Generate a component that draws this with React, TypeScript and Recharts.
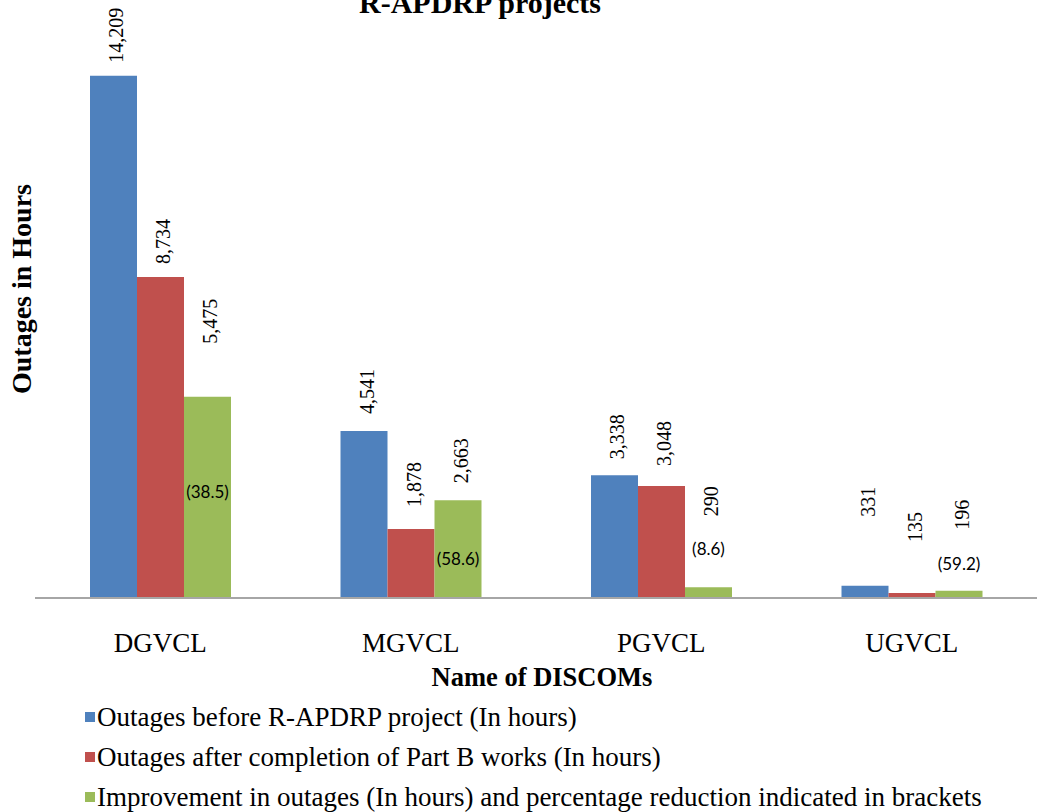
import React from "react";
import { BarChart, Bar, XAxis, YAxis, LabelList } from "recharts";

const categories = ["DGVCL", "MGVCL", "PGVCL", "UGVCL"];
const before = [14209, 4541, 3338, 331];
const after = [8734, 1878, 3048, 135];
const improvement = [5475, 2663, 290, 196];
const reduction = [38.5, 58.6, 8.6, 59.2];

// how far each rotated value label sits above its bar (px), as placed in the original
const beforeLift = [13, 17, 16, 69];
const afterLift = [13, 22, 20, 51];
const improvementLift = [53, 17, 71, 61];
// vertical offset of the bracketed percentage from the green bar top (px, + is down)
const reductionOffset = [95, 58, -39, -27];

const series = [
  { key: "before", name: "Outages before R-APDRP project (In hours)", color: "#4F81BD" },
  { key: "after", name: "Outages after completion of Part B works (In hours)", color: "#C0504D" },
  {
    key: "improvement",
    name: "Improvement in outages (In hours) and percentage reduction indicated in brackets",
    color: "#9BBB59",
  },
];

const data = categories.map((name, i) => ({
  name,
  before: before[i],
  after: after[i],
  improvement: improvement[i],
  reduction: reduction[i],
}));

const serif = "'Liberation Serif', 'Times New Roman', serif";

const rotatedLabel = (lifts: number[]) => (props: any) => {
  const { x, y, width, value, index } = props;
  const cx = Number(x) + Number(width) / 2 + 10;
  const ty = Number(y) - lifts[index];
  return (
    <text
      x={cx}
      y={ty}
      transform={`rotate(-90, ${cx}, ${ty})`}
      textAnchor="start"
      fontFamily={serif}
      fontSize={20}
      fill="#000"
    >
      {Number(value).toLocaleString("en-US")}
    </text>
  );
};

const pctLabel = (props: any) => {
  const { x, y, width, index } = props;
  const cx = Number(x) + Number(width) / 2;
  return (
    <text
      x={cx}
      y={Number(y) + reductionOffset[index]}
      textAnchor="middle"
      dominantBaseline="central"
      fontFamily="Lato, 'Noto Sans', sans-serif"
      fontSize={17}
      fill="#000"
    >
      ({reduction[index].toFixed(1)})
    </text>
  );
};

const CategoryTick = (props: any) => {
  const { x, y, payload } = props;
  return (
    <text x={x} y={y + 52} textAnchor="middle" fontFamily={serif} fontSize={27} fill="#000">
      {payload.value}
    </text>
  );
};

export default function App() {
  return (
    <div style={{ position: "absolute", left: 0, top: 0, width: 1037, height: 812, background: "#fff" }}>
      <BarChart
        width={1037}
        height={812}
        data={data}
        margin={{ top: 10, right: 0, bottom: 114, left: 0 }}
        barCategoryGap={55}
        barGap={0}
      >
        <text x={480} y={13} textAnchor="middle" fontFamily={serif} fontWeight="bold" fontSize={30} fill="#000">
          R-APDRP projects
        </text>
        <XAxis
          dataKey="name"
          height={100}
          tickLine={false}
          tickSize={0}
          axisLine={{ stroke: "#A6A6A6", strokeWidth: 2 }}
          tick={<CategoryTick />}
          interval={0}
          label={(p: any) => {
            const vb = p.viewBox;
            return (
              <text
                x={vb.x + vb.width / 2 + 6}
                y={686}
                textAnchor="middle"
                fontFamily={serif}
                fontWeight="bold"
                fontSize={26.5}
                fill="#000"
              >
                Name of DISCOMs
              </text>
            );
          }}
        />
        <YAxis
          width={35}
          domain={[0, 16000]}
          tick={false}
          tickLine={false}
          axisLine={false}
          label={() => (
            <text
              x={31}
              y={289}
              transform="rotate(-90, 31, 289)"
              textAnchor="middle"
              fontFamily={serif}
              fontWeight="bold"
              fontSize={28}
              fill="#000"
            >
              Outages in Hours
            </text>
          )}
        />
        <Bar dataKey="before" name={series[0].name} fill={series[0].color} isAnimationActive={false}>
          <LabelList dataKey="before" content={rotatedLabel(beforeLift)} />
        </Bar>
        <Bar dataKey="after" name={series[1].name} fill={series[1].color} isAnimationActive={false}>
          <LabelList dataKey="after" content={rotatedLabel(afterLift)} />
        </Bar>
        <Bar dataKey="improvement" name={series[2].name} fill={series[2].color} isAnimationActive={false}>
          <LabelList dataKey="improvement" content={rotatedLabel(improvementLift)} />
          <LabelList dataKey="reduction" content={pctLabel} />
        </Bar>
      </BarChart>
      <div style={{ position: "absolute", left: 85, top: 697 }}>
        {series.map((s) => (
          <div
            key={s.key}
            style={{ height: 40, display: "flex", alignItems: "center", fontFamily: serif, fontSize: 27, whiteSpace: "nowrap" }}
          >
            <span style={{ width: 10, height: 10, background: s.color, marginRight: 2, display: "inline-block" }} />
            <span>{s.name}</span>
          </div>
        ))}
      </div>
    </div>
  );
}
